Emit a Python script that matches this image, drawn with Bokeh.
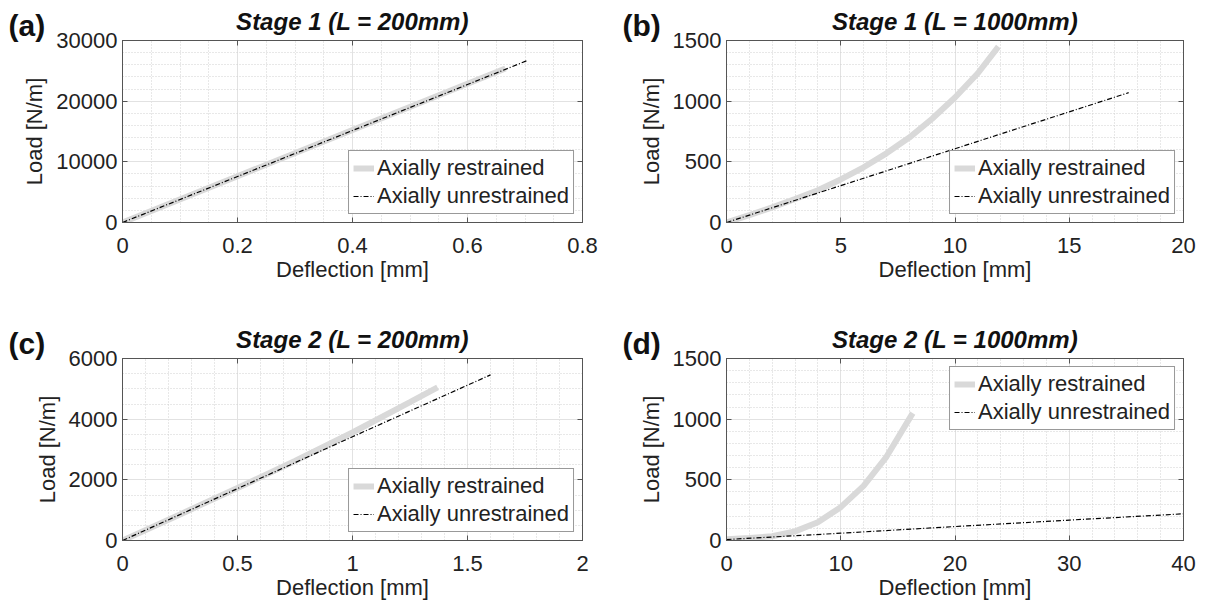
from bokeh.plotting import figure
from bokeh.models import (Range1d, SingleIntervalTicker, LinearAxis, Title,
                          Legend, LegendItem, NumeralTickFormatter,
                          CustomJSTickFormatter)
from bokeh.layouts import column, row
from bokeh.embed import file_html
from bokeh.resources import INLINE

FONT = "Liberation Sans"
TXT = "#222222"
AX = "#555555"

# ---------------- data ----------------
# (a) Stage 1, L = 200 mm
a_res_x = [0, 0.2, 0.4, 0.6, 0.666]
a_res_y = [0, 7620, 15240, 22860, 25380]
a_unr_x = [0, 0.2, 0.4, 0.6, 0.704]
a_unr_y = [0, 7580, 15160, 22740, 26700]

# (b) Stage 1, L = 1000 mm
b_res_x = [0, 1, 2, 3, 4, 5, 6, 7, 8, 9, 10, 11, 11.9]
b_res_y = [0, 61, 125, 194, 266, 355, 455, 570, 700, 855, 1030, 1230, 1450]
b_unr_x = [0, 5, 10, 15, 17.6]
b_unr_y = [0, 304, 608, 912, 1070]

# (c) Stage 2, L = 200 mm
c_res_x = [0, 0.25, 0.5, 0.75, 1.0, 1.25, 1.37]
c_res_y = [0, 860, 1730, 2620, 3560, 4560, 5050]
c_unr_x = [0, 0.5, 1.0, 1.5, 1.6]
c_unr_y = [0, 1710, 3420, 5120, 5460]

# (d) Stage 2, L = 1000 mm
d_res_x = [0, 2, 4, 6, 8, 10, 12, 14, 16.3]
d_res_y = [10, 20, 35, 75, 150, 275, 450, 690, 1050]
d_unr_x = [0, 10, 20, 30, 40]
d_unr_y = [8, 60, 115, 168, 220]

tags = ["(a)", "(b)", "(c)", "(d)"]
titles = ["Stage 1 (L = 200mm)", "Stage 1 (L = 1000mm)",
          "Stage 2 (L = 200mm)", "Stage 2 (L = 1000mm)"]
x_label = "Deflection [mm]"
y_label = "Load [N/m]"
legend_labels = ["Axially restrained", "Axially unrestrained"]

EMPTY = CustomJSTickFormatter(code="return '';")


def make_panel(tag, title, xr, yr, xint, xminor, yint, yminor,
               rx, ry, ux, uy, legend_loc, left_b, frame_w, right_b,
               height, bottom_b, tag_offset):
    p = figure(width=left_b + frame_w + right_b, height=height,
               x_range=Range1d(*xr), y_range=Range1d(*yr),
               output_backend="svg", toolbar_location=None,
               min_border_left=left_b, min_border_right=right_b,
               min_border_top=40, min_border_bottom=bottom_b,
               x_axis_label=x_label, y_axis_label=y_label)
    p.background_fill_color = "white"
    p.border_fill_color = "white"
    p.outline_line_color = AX
    p.outline_line_width = 1

    xt = SingleIntervalTicker(interval=xint, num_minor_ticks=xminor)
    yt = SingleIntervalTicker(interval=yint, num_minor_ticks=yminor)
    p.xaxis.ticker = xt
    p.yaxis.ticker = yt
    p.xgrid.ticker = xt
    p.ygrid.ticker = yt
    for g in (p.xgrid, p.ygrid):
        g.grid_line_color = "#e2e2e2"
        g.grid_line_width = 1
        g.minor_grid_line_color = "#d0d0d0"
        g.minor_grid_line_dash = "1 2"
        g.minor_grid_line_width = 1

    for ax in (p.xaxis, p.yaxis):
        ax.formatter = NumeralTickFormatter(format="0.[0]")
        ax.axis_line_color = AX
        ax.major_tick_line_color = AX
        ax.major_tick_in = 5
        ax.major_tick_out = 0
        ax.minor_tick_in = 0
        ax.minor_tick_out = 0
        ax.major_label_text_font = FONT
        ax.major_label_text_font_size = "22px"
        ax.major_label_text_color = TXT
        ax.axis_label_text_font = FONT
        ax.axis_label_text_font_size = "22px"
        ax.axis_label_text_font_style = "normal"
        ax.axis_label_text_color = TXT
    p.xaxis.major_label_standoff = 15
    p.xaxis.axis_label_standoff = 1
    p.yaxis.major_label_standoff = 5
    p.yaxis.axis_label_standoff = 6

    # box ticks on right and top (no labels)
    p.add_layout(LinearAxis(ticker=yt, formatter=EMPTY,
                            major_label_text_font_size="1px",
                            major_label_standoff=0, major_tick_in=5,
                            major_tick_out=0, minor_tick_in=0, minor_tick_out=0,
                            axis_line_color=AX, major_tick_line_color=AX), "right")
    p.add_layout(LinearAxis(ticker=xt, formatter=EMPTY,
                            major_label_text_font_size="1px",
                            major_label_standoff=0, major_tick_in=5,
                            major_tick_out=0, minor_tick_in=0, minor_tick_out=0,
                            axis_line_color=AX, major_tick_line_color=AX), "above")

    # main title: slot right above the frame
    p.add_layout(Title(text=title, align="center", vertical_align="middle",
                       standoff=10, text_font=FONT,
                       text_font_style="bold italic", text_font_size="24px",
                       text_color="#111111"), "above")

    # panel tag as the plot title (outermost slot, pulled down beside the title)
    p.title.text = tag
    p.title.text_font = FONT
    p.title.text_font_style = "bold"
    p.title.text_font_size = "30px"
    p.title.text_color = "#111111"
    p.title.align = "left"
    p.title.offset = tag_offset
    p.title.vertical_align = "bottom"
    p.title.standoff = -80

    r1 = p.line(rx, ry, line_color="#d9d9d9", line_width=6)
    r2 = p.line(ux, uy, line_color="black", line_width=1.2, line_dash="5 2 1 2")

    leg = Legend(items=[LegendItem(label=legend_labels[0], renderers=[r1]),
                        LegendItem(label=legend_labels[1], renderers=[r2])],
                 location=legend_loc)
    leg.label_text_font = FONT
    leg.label_text_font_size = "22px"
    leg.label_text_color = TXT
    leg.glyph_width = 21
    leg.glyph_height = 26
    leg.label_height = 26
    leg.label_standoff = 3
    leg.spacing = 2
    leg.padding = 4
    leg.margin = 8
    leg.border_line_color = "#333333"
    leg.border_line_width = 1
    leg.background_fill_alpha = 1.0
    p.add_layout(leg)
    return p


pa = make_panel(tags[0], titles[0], (0, 0.8), (0, 30000), 0.2, 4, 10000, 5,
                a_res_x, a_res_y, a_unr_x, a_unr_y, "bottom_right",
                122, 460, 18, 318, 96, -114)
pb = make_panel(tags[1], titles[1], (0, 20), (0, 1500), 5, 5, 500, 5,
                b_res_x, b_res_y, b_unr_x, b_unr_y, "bottom_right",
                126, 457, 28, 318, 96, -104)
pc = make_panel(tags[2], titles[2], (0, 2), (0, 6000), 0.5, 5, 2000, 4,
                c_res_x, c_res_y, c_unr_x, c_unr_y, "bottom_right",
                122, 460, 18, 291, 69, -114)
pd = make_panel(tags[3], titles[3], (0, 40), (0, 1500), 10, 5, 500, 5,
                d_res_x, d_res_y, d_unr_x, d_unr_y, "top_right",
                126, 457, 28, 291, 69, -104)

layout = column(row(pa, pb), row(pc, pd))
open("out.html", "w").write(file_html(layout, INLINE))
